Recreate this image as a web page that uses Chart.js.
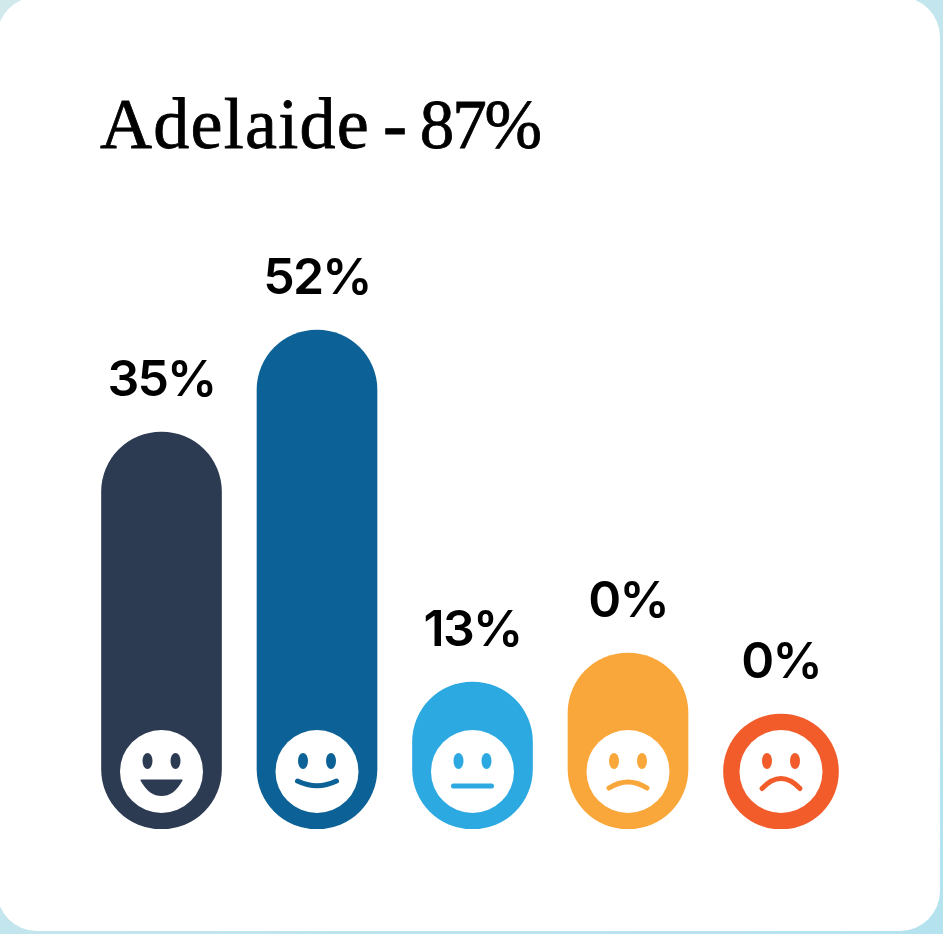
<!DOCTYPE html>
<html lang="en">
<head>
  <meta charset="UTF-8">
  <title>Adelaide - 87%</title>
  <script src="https://cdn.jsdelivr.net/npm/chart.js@4.4.1/dist/chart.umd.min.js"></script>
  <style>
    html, body { margin: 0; padding: 0; width: 943px; height: 934px; overflow: hidden; background: linear-gradient(135deg, #d2e9ec, #b4e2ef); }
    #card { position: absolute; left: -3px; top: -3px; width: 943px; height: 934px; background: #fff; border-radius: 40px; }
    #title { position: absolute; left: 100px; top: 82px; margin: 0; font: 400 72px/84px "Liberation Serif", serif; color: #000; white-space: nowrap; word-spacing: -5px; -webkit-text-stroke: 0.8px #000; }
    #title .city { letter-spacing: 1.25px; }
    #title .score { font-size: 69px; letter-spacing: -2.2px; }
    canvas { position: absolute; left: 0; top: 0; }
  </style>
</head>
<body>
  <div id="card"></div>
  <h1 id="title"><span class="city">Adelaide</span> - <span class="score">87%</span></h1>
  <canvas id="chart" width="943" height="934"></canvas>
  <script>
    const categories = ["Very happy", "Happy", "Neutral", "Unhappy", "Very unhappy"];
    const percentLabels = ["35%", "52%", "13%", "0%", "0%"];
    // bar lengths, they do not follow the printed percentages
    const barHeights = [397, 499, 147, 176, 115];
    const barColors = ["#2c3a52", "#0c6296", "#2ca9e1", "#f9a73a", "#f15c2a"];
    const faceTypes = ["grin", "smile", "flat", "sad", "frown"];

    // last bar is a bit narrower than the others
    const narrowLastBar = {
      id: "narrowLastBar",
      afterDatasetsUpdate(chart) {
        const last = chart.getDatasetMeta(0).data[4];
        last.x -= 2.5;
        last.width = 115;
      }
    };

    function drawFace(ctx, x, y, type, color) {
      ctx.fillStyle = "#fff";
      ctx.beginPath();
      ctx.arc(x, y, 41.5, 0, Math.PI * 2);
      ctx.fill();

      ctx.fillStyle = color;
      ctx.strokeStyle = color;
      ctx.lineCap = "round";
      ctx.lineWidth = 5;
      [-14, 14].forEach((dx) => {
        ctx.beginPath();
        ctx.ellipse(x + dx, y - 10.5, 5, 8, 0, 0, Math.PI * 2);
        ctx.fill();
      });

      ctx.beginPath();
      if (type === "grin") {
        ctx.moveTo(x - 21, y + 9);
        ctx.quadraticCurveTo(x - 21.5, y + 8, x - 20, y + 8);
        ctx.lineTo(x + 20, y + 8);
        ctx.quadraticCurveTo(x + 21.5, y + 8, x + 21, y + 9);
        ctx.bezierCurveTo(x + 15, y + 20, x + 8, y + 24.5, x, y + 24.5);
        ctx.bezierCurveTo(x - 8, y + 24.5, x - 15, y + 20, x - 21, y + 9);
        ctx.fill();
      } else if (type === "smile") {
        ctx.moveTo(x - 19.5, y + 9.5);
        ctx.quadraticCurveTo(x, y + 19, x + 19.5, y + 9.5);
        ctx.stroke();
      } else if (type === "flat") {
        ctx.moveTo(x - 19, y + 14.5);
        ctx.lineTo(x + 19, y + 14.5);
        ctx.stroke();
      } else if (type === "sad") {
        ctx.moveTo(x - 19, y + 16.5);
        ctx.quadraticCurveTo(x, y + 4.5, x + 19, y + 16.5);
        ctx.stroke();
      } else {
        ctx.moveTo(x - 19, y + 17);
        ctx.quadraticCurveTo(x, y - 3, x + 19, y + 17);
        ctx.stroke();
      }
    }

    // percentage above each bar and the face inside its foot
    const barExtras = {
      id: "barExtras",
      afterDatasetsDraw(chart) {
        const ctx = chart.ctx;
        const base = chart.scales.y.getPixelForValue(0);
        chart.getDatasetMeta(0).data.forEach((bar, i) => {
          ctx.save();
          drawFace(ctx, bar.x, base - 57.5, faceTypes[i], barColors[i]);
          ctx.fillStyle = "#000";
          ctx.font = "600 50px Inter";
          ctx.letterSpacing = "-1.8px";
          ctx.textAlign = "center";
          ctx.textBaseline = "alphabetic";
          ctx.fillText(percentLabels[i], bar.x, bar.y - 36);
          ctx.restore();
        });
      }
    };

    new Chart(document.getElementById("chart").getContext("2d"), {
      type: "bar",
      data: {
        labels: categories,
        datasets: [{
          data: barHeights,
          backgroundColor: barColors,
          barThickness: 120,
          borderRadius: 60,
          borderSkipped: false
        }]
      },
      options: {
        responsive: false,
        animation: false,
        layout: { padding: { left: 83.75, right: 81.75, top: 0, bottom: 105 } },
        scales: {
          x: { display: false },
          y: { display: false, min: 0, max: 829 }
        },
        plugins: {
          legend: { display: false },
          tooltip: { enabled: false }
        }
      },
      plugins: [narrowLastBar, barExtras]
    });
  </script>
</body>
</html>
